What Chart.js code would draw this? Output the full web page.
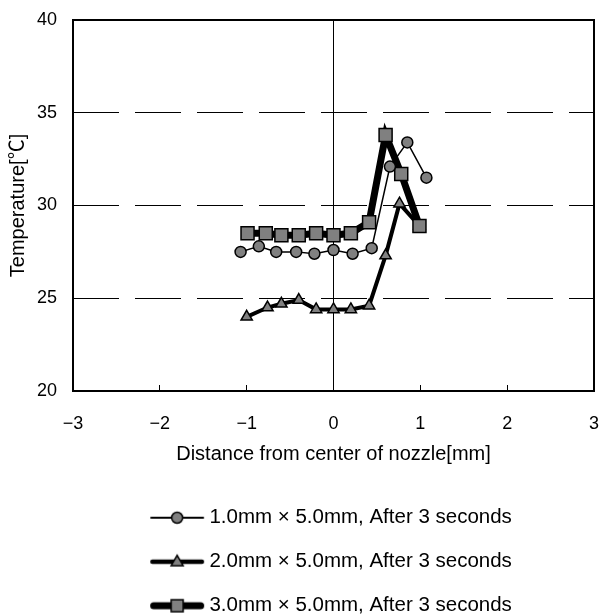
<!DOCTYPE html>
<html>
<head>
<meta charset="utf-8">
<script src="https://cdn.jsdelivr.net/npm/chart.js@4.4.0/dist/chart.umd.min.js"></script>
<style>
  html, body { margin: 0; padding: 0; background: #fff; }
  canvas { display: block; }
</style>
</head>
<body>
<canvas id="tempChart" width="600" height="615"></canvas>
<script>
// Temperature profile across the nozzle, one series per nozzle size
const seriesLabels = [
    "1.0mm × 5.0mm, After 3 seconds",
    "2.0mm × 5.0mm, After 3 seconds",
    "3.0mm × 5.0mm, After 3 seconds"
];

const dist1 = [-1.07, -0.86, -0.66, -0.43, -0.22, 0.0, 0.22, 0.44, 0.65, 0.85, 1.07];
const temp1 = [27.5, 27.8, 27.5, 27.5, 27.4, 27.6, 27.4, 27.7, 32.1, 33.4, 31.5];

const dist2 = [-1.0, -0.76, -0.6, -0.4, -0.2, 0.0, 0.2, 0.41, 0.6, 0.76, 0.99];
const temp2 = [24.0, 24.5, 24.7, 24.9, 24.4, 24.4, 24.4, 24.6, 27.3, 30.1, 28.9];

const dist3 = [-0.99, -0.78, -0.6, -0.4, -0.2, 0.0, 0.2, 0.41, 0.6, 0.78, 0.99];
const temp3 = [28.5, 28.5, 28.4, 28.4, 28.5, 28.4, 28.5, 29.1, 33.8, 31.7, 28.9];

const xTicks = [-3, -2, -1, 0, 1, 2, 3];
const yTicks = [20, 25, 30, 35, 40];

const FONT = '"Liberation Sans", "Noto Sans CJK JP", sans-serif';
const MARKER_FILL = '#808080';

const toPoints = (xs, ys) => xs.map((x, i) => ({ x: x, y: ys[i] }));

// Small line + marker icon used as the legend symbol
const makeLegendIcon = (lineWidth, shape, size) => {
    const c = document.createElement('canvas');
    c.width = 60;
    c.height = 20;
    const g = c.getContext('2d');
    g.strokeStyle = '#000';
    g.lineWidth = lineWidth;
    g.lineCap = 'round';
    g.beginPath();
    g.moveTo(3 + lineWidth / 2, 10);
    g.lineTo(57 - lineWidth / 2, 10);
    g.stroke();

    g.fillStyle = MARKER_FILL;
    g.lineWidth = 1.5;
    g.lineCap = 'butt';
    g.beginPath();
    if (shape === 'circle') {
        g.arc(30, 10, size / 2, 0, Math.PI * 2);
    } else if (shape === 'rect') {
        g.rect(30 - size / 2, 10 - size / 2, size, size);
    } else {
        const h = size * 0.866;
        g.moveTo(30, 10 - h * 0.62);
        g.lineTo(30 + size / 2, 10 + h * 0.38);
        g.lineTo(30 - size / 2, 10 + h * 0.38);
        g.closePath();
    }
    g.fill();
    g.stroke();
    return c;
};

const legendIcons = [
    makeLegendIcon(2, 'circle', 11),
    makeLegendIcon(4.5, 'triangle', 12),
    makeLegendIcon(7, 'rect', 12)
];

// Thick frame around the plot area
const frameBox = {
    id: 'frameBox',
    afterDraw(chart) {
        const { ctx, chartArea: a } = chart;
        ctx.save();
        ctx.strokeStyle = '#000';
        ctx.lineWidth = 2;
        ctx.strokeRect(a.left, a.top, a.right - a.left, a.bottom - a.top);
        ctx.restore();
    }
};

// Axis sizes are fixed, so label overflow must not shrink the plot area
const zeroPadding = (scale) => {
    scale.paddingLeft = 0;
    scale.paddingRight = 0;
    scale.paddingTop = 0;
    scale.paddingBottom = 0;
};

const ctx = document.getElementById('tempChart').getContext('2d');

new Chart(ctx, {
    type: 'line',
    data: {
        datasets: [
            {
                label: seriesLabels[0],
                data: toPoints(dist1, temp1),
                borderColor: '#000',
                borderWidth: 1.5,
                pointStyle: 'circle',
                pointRadius: 5.5,
                pointBackgroundColor: MARKER_FILL,
                pointBorderColor: '#000',
                pointBorderWidth: 1.5,
                tension: 0,
                order: 0
            },
            {
                label: seriesLabels[1],
                data: toPoints(dist2, temp2),
                borderColor: '#000',
                borderWidth: 4,
                pointStyle: 'triangle',
                pointRadius: 6.5,
                pointBackgroundColor: MARKER_FILL,
                pointBorderColor: '#000',
                pointBorderWidth: 1.5,
                tension: 0,
                order: 2
            },
            {
                label: seriesLabels[2],
                data: toPoints(dist3, temp3),
                borderColor: '#000',
                borderWidth: 7,
                pointStyle: 'rect',
                pointRadius: 9.2,
                pointBackgroundColor: MARKER_FILL,
                pointBorderColor: '#000',
                pointBorderWidth: 1.5,
                tension: 0,
                order: 1
            }
        ]
    },
    options: {
        responsive: false,
        animation: false,
        devicePixelRatio: 1,
        layout: {
            autoPadding: false,
            padding: { top: 20, right: 6, left: 0, bottom: -11 }
        },
        plugins: {
            tooltip: { enabled: false },
            legend: {
                position: 'bottom',
                fullSize: false,
                labels: {
                    color: '#000',
                    font: { family: FONT, size: 20.5 },
                    usePointStyle: true,
                    pointStyleWidth: 44,
                    padding: 23.5,
                    generateLabels: (chart) => {
                        const items = Chart.defaults.plugins.legend.labels.generateLabels(chart);
                        items.sort((a, b) => a.datasetIndex - b.datasetIndex);
                        items.forEach(item => {
                            item.pointStyle = legendIcons[item.datasetIndex];
                            item.rotation = 0;
                        });
                        return items;
                    }
                }
            }
        },
        scales: {
            x: {
                type: 'linear',
                min: -3,
                max: 3,
                afterBuildTicks: (scale) => {
                    scale.ticks = xTicks.map(v => ({ value: v }));
                },
                afterFit: (scale) => {
                    scale.height = 93;
                    zeroPadding(scale);
                },
                border: { display: false },
                grid: {
                    color: (c) => (c.tick && c.tick.value === 0 ? '#000' : 'transparent'),
                    lineWidth: 1,
                    drawTicks: true,
                    tickLength: -6,
                    tickColor: '#000',
                    tickWidth: 1
                },
                ticks: {
                    color: '#000',
                    padding: 28,
                    maxRotation: 0,
                    font: { family: FONT, size: 18 },
                    callback: (v) => String(v).replace('-', '\u2212')
                },
                title: {
                    display: true,
                    text: 'Distance from center of nozzle[mm]',
                    color: '#000',
                    font: { family: FONT, size: 20 },
                    padding: { top: 0, bottom: 18 }
                }
            },
            y: {
                min: 20,
                max: 40,
                afterBuildTicks: (scale) => {
                    scale.ticks = yTicks.map(v => ({ value: v }));
                },
                afterFit: (scale) => {
                    scale.width = 73;
                    zeroPadding(scale);
                },
                border: { display: false, dash: [46, 16] },
                grid: {
                    color: (c) => (c.tick && (c.tick.value === 20 || c.tick.value === 40) ? 'transparent' : '#000'),
                    lineWidth: 1,
                    drawTicks: false
                },
                ticks: {
                    color: '#000',
                    padding: 16,
                    font: { family: FONT, size: 18 }
                },
                title: {
                    display: true,
                    text: 'Temperature[℃]',
                    color: '#000',
                    font: { family: FONT, size: 20 },
                    padding: { top: 6, bottom: 0 }
                }
            }
        }
    },
    plugins: [frameBox]
});
</script>
</body>
</html>
